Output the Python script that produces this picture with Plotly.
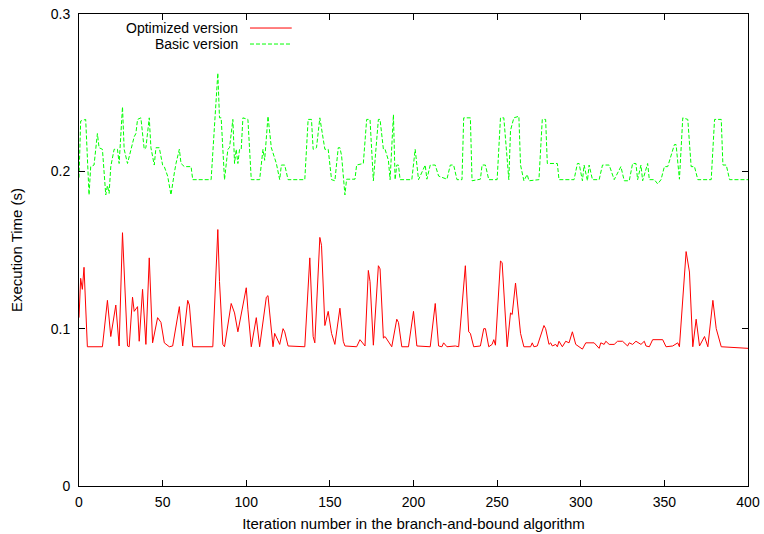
import plotly.graph_objects as go

# Execution time per branch-and-bound iteration (vertices of each trace)
opt_iter = [0, 1, 2, 3, 5, 6, 14, 17, 19, 22, 24, 26, 29, 30, 32, 33, 35, 36, 38, 40,
            42, 44, 47, 49, 51, 54, 56, 60, 62, 65, 66, 68, 80, 83, 84, 86, 87, 91, 93, 95,
            97, 100, 101, 103, 106, 108, 112, 113, 116, 117, 120, 122, 123, 125, 135, 138, 140, 141, 144, 145,
            147, 149, 151, 153, 156, 158, 159, 166, 168, 171, 173, 174, 176, 179, 180, 182, 183, 185, 187, 190,
            191, 193, 197, 200, 202, 210, 213, 215, 217, 218, 220, 225, 227, 231, 233, 234, 236, 240, 242, 243, 245,
            247, 248, 249, 252, 253, 256, 258, 259, 261, 263, 264, 266, 270, 271, 272, 274, 278, 279, 281, 282,
            283, 285, 286, 287, 289, 291, 293, 295, 297, 301, 303, 308, 311, 312, 314, 315, 317, 320, 322, 325,
            327, 328, 329, 331, 333, 336, 338, 339, 341, 343, 349, 351, 355, 358, 359, 363, 365, 367, 369, 371,
            374, 376, 379, 381, 384, 400]
opt_time = [0.107, 0.132, 0.125, 0.139, 0.0885, 0.0885, 0.0885, 0.118, 0.095, 0.115, 0.089, 0.161, 0.089, 0.0885, 0.120, 0.111, 0.114, 0.092, 0.125, 0.090,
            0.145, 0.091, 0.107, 0.104, 0.091, 0.0885, 0.089, 0.114, 0.089, 0.118, 0.115, 0.0885, 0.0885, 0.163, 0.130, 0.090, 0.0885, 0.116, 0.110, 0.098,
            0.110, 0.126, 0.112, 0.0885, 0.107, 0.0885, 0.120, 0.121, 0.0885, 0.097, 0.090, 0.100, 0.098, 0.089, 0.0885, 0.145, 0.095, 0.091, 0.158, 0.153,
            0.102, 0.111, 0.097, 0.090, 0.113, 0.092, 0.089, 0.0885, 0.093, 0.089, 0.137, 0.130, 0.0895, 0.140, 0.138, 0.094, 0.095, 0.092, 0.0885, 0.106,
            0.104, 0.0885, 0.0885, 0.111, 0.089, 0.0885, 0.116, 0.089, 0.0885, 0.091, 0.0885, 0.089, 0.0885, 0.140, 0.098, 0.097, 0.0885, 0.089, 0.100, 0.100, 0.0885,
            0.090, 0.093, 0.0895, 0.143, 0.142, 0.0885, 0.110, 0.109, 0.129, 0.110, 0.097, 0.0885, 0.0885, 0.091, 0.0885, 0.089, 0.102, 0.100, 0.090, 0.091,
            0.089, 0.090, 0.0885, 0.092, 0.0885, 0.092, 0.091, 0.098, 0.090, 0.087, 0.091, 0.091, 0.0875, 0.091, 0.090, 0.092, 0.090, 0.090, 0.092, 0.092,
            0.090, 0.089, 0.091, 0.090, 0.092, 0.090, 0.092, 0.089, 0.0885, 0.093, 0.093, 0.0885, 0.089, 0.091, 0.0885, 0.149, 0.136, 0.0885, 0.106, 0.089,
            0.095, 0.0885, 0.118, 0.100, 0.0885, 0.0875]

basic_iter = [0, 1, 4, 6, 7, 9, 11, 12, 14, 16, 17, 18, 19, 21, 23, 24, 26, 27, 29, 31,
              33, 34, 35, 37, 39, 40, 42, 43, 45, 46, 48, 50, 51, 53, 55, 57, 58, 60, 61, 63,
              67, 68, 79, 83, 84, 85, 87, 89, 90, 92, 93, 94, 95, 96, 97, 98, 101, 103, 108, 110,
              111, 113, 115, 118, 120, 121, 123, 125, 135, 137, 139, 140, 142, 144, 146, 147, 149, 151, 153, 155,
              156, 157, 159, 160, 165, 166, 170, 172, 174, 176, 179, 180, 182, 183, 185, 186, 188, 189, 190, 191,
              192, 199, 201, 203, 207, 208, 210, 213, 215, 220, 222, 224, 226, 229, 230, 234, 235, 240, 241, 243,
              245, 250, 252, 254, 257, 258, 260, 263, 264, 266, 268, 269, 275, 277, 279, 280, 286, 287, 296, 298,
              299, 301, 302, 304, 305, 307, 311, 313, 317, 320, 324, 326, 329, 331, 333, 334, 336, 337, 340, 341,
              344, 346, 348, 350, 352, 356, 357, 359, 361, 364, 366, 368, 370, 378, 380, 384, 385, 387, 389, 400]
basic_time = [0.196, 0.232, 0.233, 0.185, 0.203, 0.204, 0.224, 0.215, 0.214, 0.185, 0.191, 0.186, 0.203, 0.214, 0.214, 0.205, 0.241, 0.214, 0.205, 0.214,
              0.222, 0.224, 0.233, 0.234, 0.214, 0.215, 0.234, 0.215, 0.204, 0.215, 0.215, 0.204, 0.203, 0.197, 0.185, 0.199, 0.205, 0.214, 0.205, 0.203,
              0.203, 0.1947, 0.1947, 0.2625, 0.234, 0.234, 0.1947, 0.214, 0.215, 0.233, 0.205, 0.214, 0.205, 0.214, 0.214, 0.234, 0.233, 0.1947, 0.1947, 0.214,
              0.207, 0.235, 0.215, 0.205, 0.1947, 0.204, 0.204, 0.1947, 0.1947, 0.233, 0.233, 0.214, 0.215, 0.234, 0.220, 0.214, 0.214, 0.1947, 0.194, 0.215,
              0.215, 0.210, 0.185, 0.195, 0.195, 0.204, 0.205, 0.233, 0.233, 0.194, 0.233, 0.233, 0.214, 0.214, 0.207, 0.1947, 0.236, 0.1947, 0.204, 0.204,
              0.1947, 0.1947, 0.214, 0.1947, 0.204, 0.195, 0.204, 0.204, 0.197, 0.195, 0.204, 0.204, 0.1947, 0.1947, 0.234, 0.234, 0.194, 0.195, 0.204, 0.204,
              0.1947, 0.1947, 0.234, 0.234, 0.1947, 0.226, 0.234, 0.235, 0.204, 0.194, 0.198, 0.194, 0.1947, 0.233, 0.233, 0.205, 0.205, 0.1947, 0.1947, 0.205,
              0.205, 0.194, 0.204, 0.194, 0.204, 0.1947, 0.1947, 0.204, 0.204, 0.1947, 0.203, 0.194, 0.194, 0.205, 0.205, 0.1947, 0.204, 0.194, 0.205, 0.1947,
              0.1947, 0.192, 0.1947, 0.203, 0.203, 0.217, 0.217, 0.195, 0.234, 0.233, 0.203, 0.203, 0.1947, 0.1947, 0.233, 0.233, 0.204, 0.204, 0.1947, 0.1947]

x_ticks = [0, 50, 100, 150, 200, 250, 300, 350, 400]
y_ticks = [0, 0.1, 0.2, 0.3]
y_tick_text = ["0", "0.1", "0.2", "0.3"]

FONT = "Liberation Sans, Arial, sans-serif"
RED = "#ff0000"
GREEN = "#00ff00"
TICK_SIZE = 14
TEXT_SIZE = 15

fig = go.Figure()
fig.add_trace(go.Scatter(x=opt_iter, y=opt_time, mode="lines", name="Optimized version",
                         line=dict(color=RED, width=1), showlegend=False))
fig.add_trace(go.Scatter(x=basic_iter, y=basic_time, mode="lines", name="Basic version",
                         line=dict(color=GREEN, width=1, dash="4px,2px"), showlegend=False))

# gnuplot-style key: right-aligned label followed by a line sample
key = [("Optimized version", RED, "solid", 0.9703), ("Basic version", GREEN, "4px,2px", 0.9364)]
for label, color, dash, ky in key:
    fig.add_annotation(xref="paper", yref="paper", x=0.240, y=ky, text=label,
                       showarrow=False, xanchor="right", yanchor="middle",
                       font=dict(family=FONT, size=TICK_SIZE, color="black"))
    fig.add_shape(type="line", xref="paper", yref="paper", x0=0.2556, x1=0.318, y0=ky, y1=ky,
                  line=dict(color=color, width=1, dash=dash))

axis_common = dict(showline=True, linecolor="black", linewidth=1, mirror="ticks",
                   ticks="inside", ticklen=6, tickcolor="black", tickwidth=1,
                   showgrid=False, zeroline=False, automargin=False,
                   tickfont=dict(family=FONT, size=TICK_SIZE, color="black"))

fig.update_xaxes(range=[0, 400], tickvals=x_ticks, ticklabelstandoff=3,
                 title=dict(text="Iteration number in the branch-and-bound algorithm",
                            font=dict(family=FONT, size=TEXT_SIZE, color="black"), standoff=9),
                 **axis_common)
fig.update_yaxes(range=[0, 0.3], tickvals=y_ticks, ticktext=y_tick_text, ticklabelstandoff=5,
                 title=dict(text="Execution Time (s)",
                            font=dict(family=FONT, size=TEXT_SIZE, color="black"), standoff=24),
                 **axis_common)

fig.update_layout(width=764, height=534, margin=dict(l=79, r=16, t=14, b=48),
                  paper_bgcolor="white", plot_bgcolor="white",
                  font=dict(family=FONT, size=TICK_SIZE, color="black"))

fig.write_html("out.html")
